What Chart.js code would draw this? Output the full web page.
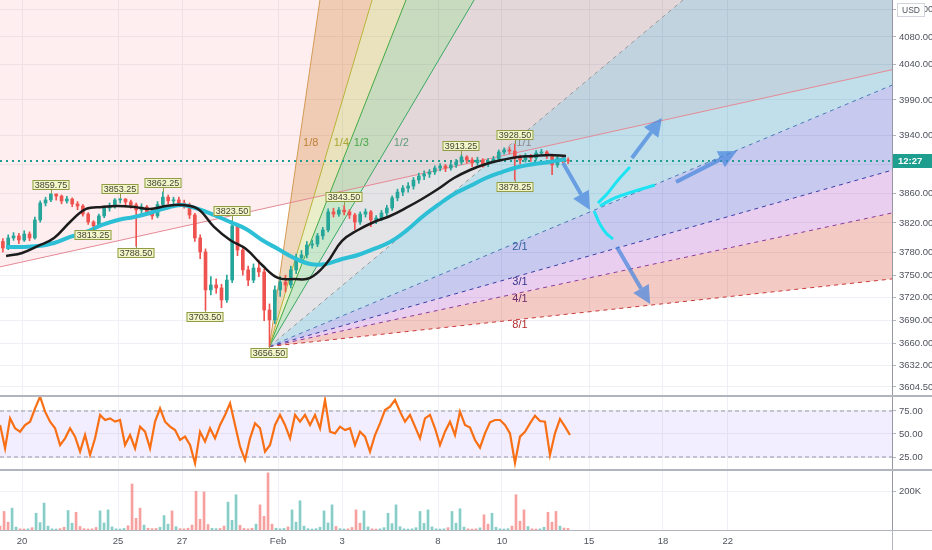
<!DOCTYPE html>
<html>
<head>
<meta charset="utf-8">
<script src="https://cdn.jsdelivr.net/npm/chart.js@4.4.1/dist/chart.umd.min.js"></script>
<style>
  html, body { margin: 0; padding: 0; background: #fff; }
  #wrap { position: relative; width: 932px; height: 550px; overflow: hidden; }
  canvas { position: absolute; left: 0; }
  .sep { position: absolute; left: 0; width: 932px; height: 2px; background: #b2b5be; }
  .rule { position: absolute; background: #b2b5be; }
</style>
</head>
<body>
<div id="wrap">
  <canvas id="priceChart" width="932" height="395" style="top:0"></canvas>
  <div class="sep" style="top:395px"></div>
  <canvas id="rsiChart" width="932" height="72" style="top:397px"></canvas>
  <div class="sep" style="top:469px"></div>
  <canvas id="volChart" width="932" height="79" style="top:471px"></canvas>
  <div class="rule" style="left:892px;top:530px;width:40px;height:1px"></div>
  <div class="rule" style="left:892px;top:530px;width:1px;height:20px"></div>
</div>
<script>
// ---- axis data ----
// x = trading days since Jan 20 (the future part keeps the chart's own spacing)
const dayTicks = [0, 3, 5, 8, 10, 13, 15, 17.72, 20.03, 22.06];
const dayLabels = ['20', '25', '27', 'Feb', '3', '8', '10', '15', '18', '22'];
const dayMin = -0.69, dayMax = 27.19;

const priceTicks = [4120, 4080, 4040, 3990, 3940, 3900, 3860, 3820, 3780, 3750, 3720, 3690, 3660, 3632, 3604.5];
const priceMin = 3594.2, priceMax = 4133.8;

// ---- 4h candles ----
const candleStart = -0.6, candleStep = 1 / 6;
const firstOpen = 3795;
const closes = [
  3786.25, 3799.75, 3802.5, 3797, 3805, 3799.75, 3824, 3847, 3851.25, 3859.5,
  3856.5, 3849.75, 3852.5, 3845.75, 3843, 3832, 3821.25, 3816, 3829.5, 3840.25,
  3843, 3851.25, 3852.5, 3848.5, 3844.5, 3837.5, 3841.75, 3835, 3829.5, 3845,
  3855, 3850, 3851.25, 3847, 3844.5, 3830.75, 3799.75, 3781, 3730.5, 3737,
  3733, 3717.25, 3743.5, 3816, 3783.5, 3757, 3743.5, 3759.5, 3754.25, 3704,
  3691, 3730.5, 3741, 3737, 3757, 3773, 3777, 3790.25, 3791.5, 3802.5,
  3810.5, 3835, 3832, 3837.5, 3835, 3830.75, 3821.25, 3832, 3835, 3824,
  3826.75, 3833.5, 3840.25, 3854, 3862, 3867.5, 3870.25, 3878.5, 3884, 3886.75,
  3889.5, 3895, 3897.75, 3895, 3899.25, 3903.25, 3910.25, 3906, 3902, 3906,
  3900.5, 3904.75, 3907.5, 3917.25, 3920, 3918.5, 3909, 3906, 3911.75, 3909,
  3915.75, 3917.25, 3911.75, 3899.25, 3909, 3906, 3904.75
];
const highs = [
  3799, 3804, 3807, 3806, 3809.5, 3808, 3828, 3850, 3855, 3859.75,
  3859, 3858, 3856, 3854, 3849, 3845, 3834, 3823, 3832, 3843,
  3847, 3853, 3853.25, 3853, 3851, 3847, 3846, 3844, 3838, 3849,
  3862.25, 3858, 3855, 3855, 3851, 3847, 3833, 3804, 3785, 3748,
  3745, 3738, 3750, 3823.5, 3819, 3788, 3762, 3765, 3770, 3758,
  3712, 3736, 3748, 3750, 3762, 3778, 3783, 3795, 3797, 3806,
  3814, 3839, 3840, 3841, 3843.5, 3838, 3833, 3835, 3839, 3837,
  3830, 3837, 3844, 3857, 3866, 3871, 3875, 3882, 3888, 3891,
  3893, 3898, 3901, 3900, 3903, 3907, 3913.25, 3912, 3909, 3910,
  3908, 3908, 3911, 3920, 3923, 3924, 3928.5, 3913, 3915, 3914,
  3919, 3921, 3919, 3914, 3912, 3911, 3909
];
const lows = [
  3781, 3784, 3796.5, 3792, 3795, 3796, 3798, 3821, 3843, 3849,
  3851, 3846, 3847, 3842, 3838, 3829, 3818, 3813.25, 3814, 3827,
  3836, 3840, 3847, 3843, 3840, 3788.5, 3833, 3831, 3825, 3827,
  3842, 3846, 3846, 3843, 3840, 3826, 3795, 3772, 3703.5, 3724,
  3726, 3707, 3714, 3740, 3776, 3750, 3736, 3740, 3748, 3690,
  3656.5, 3686, 3722, 3728, 3733, 3752, 3768, 3773, 3786, 3788,
  3798, 3808, 3828, 3829, 3831, 3826, 3811, 3818, 3828, 3815,
  3819, 3823, 3830, 3837, 3850, 3857, 3862, 3866, 3874, 3879,
  3882, 3886, 3891, 3890, 3892, 3896, 3900, 3902, 3897, 3899,
  3896, 3897, 3902, 3905, 3914, 3915, 3878.25, 3900, 3903, 3904,
  3906, 3912, 3908, 3886, 3896, 3902, 3901
];

// ---- moving averages, read every half day ----
const maDays = [-0.5, 0, 0.5, 1, 1.5, 2, 2.5, 3, 3.5, 4, 4.5, 5, 5.5, 6, 6.5, 7, 7.5, 8,
  8.5, 9, 9.5, 10, 10.5, 11, 11.5, 12, 12.5, 13, 13.5, 14, 14.5, 15, 15.5, 16, 16.5, 17];
const maBlack = [3775.5, 3779.6, 3789, 3799.7, 3821.3, 3839, 3841.7, 3843, 3841.7, 3839,
  3843, 3844.4, 3839, 3814.6, 3797, 3785, 3763.5, 3746.3, 3744.9, 3746.3,
  3764.9, 3795.7, 3810.5, 3821.3, 3829.4, 3840.3, 3852.5, 3866.2, 3881.3, 3892.3,
  3900.6, 3906.1, 3910.3, 3911.7, 3913.1, 3911.7];
const maCyan = [3787.6, 3787.6, 3789, 3793, 3801.1, 3807.8, 3817.3, 3824, 3828.1, 3833.5,
  3840.3, 3844.4, 3839, 3830.8, 3821.3, 3811.9, 3797, 3785, 3772.9, 3764.9,
  3764.9, 3771.5, 3776.9, 3785, 3794.3, 3809.2, 3828.1, 3844.4, 3859.4, 3870.3,
  3881.3, 3889.5, 3896.4, 3900.6, 3903.3, 3907.5];

// ---- drawings ----
const trendDays = [-0.69, 27.19];
const trendPrices = [3761, 4033];

const fanOrigin = [7.73, 3656.5];
const fanNames = ['1/8', '1/4', '1/3', '1/2', '1/1', '2/1', '3/1', '4/1', '8/1'];
const fanEndDay = [9.31, 10.94, 12.0, 14.13, 20.66, 27.19, 27.19, 27.19, 27.19];
const fanEndPrice = [4133.8, 4133.8, 4133.8, 4133.8, 4133.8, 4011, 3892, 3833.5, 3745];
const fanLabelPrice = 3929.7;
const fanLabelDay = 15.56;

const markerDays = [0.9, 2.23, 3.07, 3.57, 4.4, 5.73, 6.57, 7.73, 10.07, 13.73, 15.4, 15.4];
const markerPrices = [3859.75, 3813.25, 3853.25, 3788.5, 3862.25, 3703.5, 3823.5, 3656.5, 3843.5, 3913.25, 3928.5, 3878.25];
const markerIsHigh = [true, false, true, false, true, false, true, false, true, true, true, false];

const arrowFrom = [[16.91, 3901.9], [19.06, 3908.9], [20.44, 3875.8], [18.59, 3787.6]];
const arrowTo = [[17.75, 3837.6], [20.0, 3964.6], [22.34, 3918.6], [19.63, 3711.9]];

const brushA = [[18.0, 3847.1], [18.31, 3860.8], [18.63, 3878.5], [19.0, 3896.4]];
const brushB = [[18.06, 3843.0], [18.53, 3853.9], [19.16, 3863.4], [19.78, 3871.6]];
const brushC = [[17.88, 3836.2], [18.06, 3818.6], [18.25, 3806.4], [18.47, 3798.3]];

const lastPrice = 3904.75;
const countdownText = '12:27';

// ---- RSI, every 5px (0.15625 day) ----
const rsiStart = -0.6875, rsiStep = 0.15625;
const rsiValues = [
  59.8, 34.4, 67.0, 56.2, 52.5, 59.8, 63.4, 77.9, 90.6, 74.3,
  63.4, 56.2, 38.0, 45.3, 56.2, 47.1, 30.8, 48.9, 27.2, 45.3,
  70.7, 65.2, 67.0, 63.4, 65.2, 38.0, 48.9, 34.4, 58.0, 52.5,
  34.4, 63.4, 77.9, 63.4, 58.0, 54.3, 43.5, 47.1, 38.0, 18.1,
  52.5, 41.7, 56.2, 45.3, 59.8, 70.7, 83.3, 59.8, 36.2, 21.7,
  45.3, 61.6, 56.2, 30.8, 38.0, 59.8, 70.7, 59.8, 45.3, 70.7,
  63.4, 70.7, 59.8, 70.7, 56.2, 87.0, 52.5, 50.7, 58.0, 54.3,
  56.2, 38.0, 52.5, 47.1, 30.8, 48.9, 61.6, 76.1, 79.7, 87.0,
  74.3, 63.4, 70.7, 58.0, 45.3, 67.0, 70.7, 56.2, 38.0, 52.5,
  63.4, 48.9, 74.3, 59.8, 56.9, 43.5, 35.1, 50.7, 62.7, 65.2,
  65.2, 59.8, 50.7, 18.5, 47.1, 52.5, 61.6, 69.9, 64.1, 63.4,
  27.0, 50.7, 66.3, 58.0, 48.9
];
const rsiBand = [25, 75];
const rsiTicks = [25, 50, 75];

// ---- volume (thousands), every 4px (1/8 day) ----
const volStart = -0.6875, volStep = 0.125;
const volumes = [
  20, 95, 40, 112, 15, 6, 5, 6, 12, 86, 38, 138, 20, 6, 5, 7, 14,
  100, 35, 91, 18, 7, 5, 6, 13, 98, 36, 103, 16, 6, 5, 8, 22,
  236, 60, 112, 25, 9, 7, 8, 14, 74, 30, 98, 17, 7, 6, 9, 25,
  198, 55, 195, 28, 9, 7, 8, 20, 143, 50, 181, 24, 8, 6, 9, 30,
  129, 70, 293, 30, 9, 6, 8, 16, 103, 40, 150, 20, 7, 5, 7, 14,
  98, 36, 129, 18, 7, 5, 6, 13, 103, 35, 98, 16, 6, 5, 6, 12,
  86, 33, 129, 17, 6, 5, 6, 12, 95, 34, 103, 16, 6, 5, 6, 12,
  95, 35, 109, 15, 6, 5, 6, 11, 78, 30, 86, 14, 6, 5, 7, 20,
  181, 45, 103, 18, 6, 5, 6, 14, 91, 40, 95, 20, 10, 8
];
const volTicks = [200];

// ---- styles ----
const FONT = '"Liberation Sans", Arial, sans-serif';
const UP = '#26a69a', DOWN = '#ef5350';
const fanLine = ['#d49a55', '#b9b43a', '#43a843', '#3aa864', '#9a9a9a', '#4a78b4', '#3b3ba6', '#8a3a9c', '#c83a3a'];
const fanText = ['#c0803a', '#a9a532', '#4aa64a', '#5f9a78', '#8a8a8a', '#2f5f9e', '#34348c', '#6e2a6e', '#b02c2c'];
const fanFill = ['rgba(205,125,40,0.3)', 'rgba(170,190,40,0.25)', 'rgba(76,175,80,0.3)', 'rgba(120,120,130,0.2)',
  'rgba(30,140,180,0.28)', 'rgba(70,80,200,0.3)', 'rgba(170,60,190,0.25)', 'rgba(220,80,60,0.3)'];

Chart.defaults.font.family = FONT;
Chart.defaults.font.size = 9.5;
Chart.defaults.color = '#50535e';
Chart.defaults.animation = false;
Chart.defaults.events = [];
Chart.defaults.plugins.legend.display = false;
Chart.defaults.plugins.tooltip.enabled = false;

const opens = closes.map((c, i) => i === 0 ? firstOpen : closes[i - 1]);
const isUp = closes.map((c, i) => c >= opens[i]);
const candleDays = closes.map((c, i) => candleStart + i * candleStep);
const toPts = arr => arr.map(p => ({x: p[0], y: p[1]}));

function dayScale(showLabels) {
  return {
    type: 'linear', min: dayMin, max: dayMax, offset: false,
    afterBuildTicks: s => { s.ticks = dayTicks.map(v => ({value: v})); },
    afterFit: s => { s.height = showLabels ? 20 : 0; s.paddingLeft = 0; s.paddingRight = 0; },
    grid: {color: '#eef0f5', drawTicks: false, offset: false},
    border: {display: showLabels, color: '#b2b5be'},
    ticks: {display: showLabels, padding: 6, autoSkip: false, maxRotation: 0,
      callback: (v, i) => dayLabels[i]}
  };
}
function sideScale(extra) {
  return Object.assign({
    position: 'right',
    afterFit: s => { s.width = 40; s.paddingTop = 0; s.paddingBottom = 0; },
    grid: {color: '#eef0f5', tickLength: 4, tickColor: '#b2b5be'},
    border: {color: '#9598a1'},
    ticks: {padding: 3, autoSkip: false}
  }, extra);
}

// ---- overlay drawings for the price pane ----
function drawArrow(ctx, x1, y1, x2, y2) {
  const ang = Math.atan2(y2 - y1, x2 - x1);
  const headLen = 18, headW = 9;
  const bx = x2 - headLen * Math.cos(ang), by = y2 - headLen * Math.sin(ang);
  ctx.strokeStyle = 'rgba(70,134,222,0.72)';
  ctx.fillStyle = 'rgba(70,134,222,0.72)';
  ctx.lineWidth = 4;
  ctx.beginPath(); ctx.moveTo(x1, y1); ctx.lineTo(bx, by); ctx.stroke();
  ctx.beginPath();
  ctx.moveTo(x2, y2);
  ctx.lineTo(bx + headW * Math.sin(ang), by - headW * Math.cos(ang));
  ctx.lineTo(bx - headW * Math.sin(ang), by + headW * Math.cos(ang));
  ctx.closePath(); ctx.fill();
}

const overlay = {
  id: 'overlay',
  afterDatasetsDraw(chart) {
    const {ctx, chartArea: a} = chart;
    const px = d => chart.scales.x.getPixelForValue(d);
    const py = p => chart.scales.y.getPixelForValue(p);
    ctx.save();
    ctx.beginPath();
    ctx.rect(a.left, a.top, a.right - a.left, a.bottom - a.top);
    ctx.clip();

    // fan labels
    const ox = px(fanOrigin[0]), oy = py(fanOrigin[1]);
    ctx.font = '11px ' + FONT;
    ctx.textBaseline = 'middle';
    fanNames.forEach((name, i) => {
      const ex = px(fanEndDay[i]), ey = py(fanEndPrice[i]);
      ctx.fillStyle = fanText[i];
      if (fanEndPrice[i] >= priceMax) {
        const ly = py(fanLabelPrice);
        const lx = ox + (ly - oy) / (ey - oy) * (ex - ox);
        ctx.textAlign = 'left';
        ctx.fillText(name, lx + 4, ly);
      } else {
        const lx = px(fanLabelDay);
        const ly = oy + (lx - ox) / (ex - ox) * (ey - oy);
        ctx.textAlign = 'center';
        ctx.fillText(name, lx, ly + 6);
      }
    });

    // arrows
    arrowFrom.forEach((f, i) => {
      drawArrow(ctx, px(f[0]), py(f[1]), px(arrowTo[i][0]), py(arrowTo[i][1]));
    });

    // high / low price labels
    ctx.font = '9px ' + FONT;
    ctx.textAlign = 'center';
    markerDays.forEach((d, i) => {
      const x = Math.round(px(d)), y = py(markerPrices[i]);
      const txt = markerPrices[i].toFixed(2);
      const w = Math.round(ctx.measureText(txt).width) + 4, h = 10;
      const top = markerIsHigh[i] ? Math.round(y - 4 - h) : Math.round(y + 2);
      ctx.strokeStyle = '#8f9c45';
      ctx.lineWidth = 1;
      ctx.beginPath();
      ctx.moveTo(x + 0.5, y);
      ctx.lineTo(x + 0.5, markerIsHigh[i] ? top + h : top);
      ctx.stroke();
      ctx.fillStyle = '#f3f6c9';
      ctx.fillRect(x - w / 2, top, w, h);
      ctx.strokeRect(x - w / 2 + 0.5, top + 0.5, w - 1, h - 1);
      ctx.fillStyle = '#3f4230';
      ctx.fillText(txt, x, top + h / 2 + 0.5);
    });
    ctx.restore();

    // countdown badge on the price axis
    const yp = Math.round(py(lastPrice));
    ctx.save();
    ctx.fillStyle = '#1e9e8f';
    ctx.fillRect(a.right + 1, yp - 7, 39, 14);
    ctx.fillStyle = '#fff';
    ctx.font = 'bold 9.5px ' + FONT;
    ctx.textAlign = 'left';
    ctx.textBaseline = 'middle';
    ctx.fillText(countdownText, a.right + 6, yp + 0.5);
    // currency box
    ctx.fillStyle = '#fff';
    ctx.strokeStyle = '#d1d4dc';
    ctx.fillRect(a.right + 5, 3, 28, 14);
    ctx.strokeRect(a.right + 5.5, 3.5, 27, 13);
    ctx.fillStyle = '#50535e';
    ctx.font = '8.5px ' + FONT;
    ctx.textAlign = 'center';
    ctx.fillText('USD', a.right + 19, 10.5);
    ctx.restore();
  }
};

// ---- price pane datasets (lower order = drawn on top) ----
const priceSets = [];
priceSets.push({type: 'line', data: toPts(brushA), borderColor: '#1ee3f2', borderWidth: 3, pointRadius: 0, tension: 0.4, order: 0});
priceSets.push({type: 'line', data: toPts(brushB), borderColor: '#1ee3f2', borderWidth: 3, pointRadius: 0, tension: 0.4, order: 0});
priceSets.push({type: 'line', data: toPts(brushC), borderColor: '#1ee3f2', borderWidth: 3, pointRadius: 0, tension: 0.4, order: 0});
priceSets.push({type: 'line', data: maDays.map((d, i) => ({x: d, y: maBlack[i]})), borderColor: '#1c1c1c', borderWidth: 2.5, pointRadius: 0, tension: 0.4, order: 1});
priceSets.push({type: 'line', data: maDays.map((d, i) => ({x: d, y: maCyan[i]})), borderColor: '#2cbfd6', borderWidth: 4, pointRadius: 0, tension: 0.4, order: 2});
priceSets.push({type: 'bar', data: candleDays.map((d, i) => ({x: d, y: [opens[i], closes[i]]})),
  backgroundColor: isUp.map(u => u ? UP : DOWN), barThickness: 3, minBarLength: 1, grouped: false, order: 3});
priceSets.push({type: 'bar', data: candleDays.map((d, i) => ({x: d, y: [lows[i], highs[i]]})),
  backgroundColor: isUp.map(u => u ? UP : DOWN), barThickness: 1, grouped: false, order: 4});
priceSets.push({type: 'line', data: [{x: dayMin, y: lastPrice}, {x: dayMax, y: lastPrice}],
  borderColor: '#1e9e8f', borderWidth: 2, borderDash: [2, 4], pointRadius: 0, order: 5});
priceSets.push({type: 'line', data: trendDays.map((d, i) => ({x: d, y: trendPrices[i]})),
  borderColor: '#e48a95', borderWidth: 1, pointRadius: 0, order: 6});
fanNames.forEach((n, i) => {
  priceSets.push({type: 'line', data: [{x: fanOrigin[0], y: fanOrigin[1]}, {x: fanEndDay[i], y: fanEndPrice[i]}],
    borderColor: fanLine[i], borderWidth: 1, borderDash: i >= 4 ? [4, 4] : [], pointRadius: 0, order: 7});
});
for (let i = 0; i < fanNames.length - 1; i++) {
  const pts = [{x: fanOrigin[0], y: fanOrigin[1]}, {x: fanEndDay[i], y: fanEndPrice[i]}];
  if (fanEndPrice[i] >= priceMax && fanEndDay[i + 1] >= dayMax) pts.push({x: dayMax, y: priceMax});
  pts.push({x: fanEndDay[i + 1], y: fanEndPrice[i + 1]});
  priceSets.push({type: 'line', data: pts, fill: 'shape', backgroundColor: fanFill[i], borderWidth: 0, pointRadius: 0, order: 8});
}
priceSets.push({type: 'line', data: trendDays.map((d, i) => ({x: d, y: trendPrices[i]})),
  fill: 'end', backgroundColor: 'rgba(242,54,69,0.085)', borderWidth: 0, pointRadius: 0, order: 9});

new Chart(document.getElementById('priceChart'), {
  type: 'bar',
  data: {datasets: priceSets},
  options: {
    responsive: false, maintainAspectRatio: false,
    layout: {padding: 0},
    scales: {
      x: dayScale(false),
      y: sideScale({
        type: 'logarithmic', min: priceMin, max: priceMax,
        afterBuildTicks: s => { s.ticks = priceTicks.map(v => ({value: v})); },
        ticks: {padding: 3, autoSkip: false, callback: v => Number(v).toFixed(2)}
      })
    }
  },
  plugins: [overlay]
});

// ---- RSI pane ----
new Chart(document.getElementById('rsiChart'), {
  type: 'line',
  data: {datasets: [
    {data: rsiValues.map((v, k) => ({x: rsiStart + k * rsiStep, y: v})), borderColor: '#f86f14', borderWidth: 2.2,
      borderJoinStyle: 'miter', pointRadius: 0, order: 0},
    {data: [{x: dayMin, y: rsiBand[1]}, {x: dayMax, y: rsiBand[1]}], borderColor: '#9598a1', borderWidth: 1, borderDash: [4, 3],
      pointRadius: 0, fill: {value: rsiBand[0]}, backgroundColor: 'rgba(149,117,255,0.12)', order: 1},
    {data: [{x: dayMin, y: rsiBand[0]}, {x: dayMax, y: rsiBand[0]}], borderColor: '#9598a1', borderWidth: 1, borderDash: [4, 3],
      pointRadius: 0, order: 1}
  ]},
  options: {
    responsive: false, maintainAspectRatio: false,
    layout: {padding: 0},
    scales: {
      x: dayScale(false),
      y: sideScale({
        type: 'linear', min: 11.96, max: 90.2,
        afterBuildTicks: s => { s.ticks = rsiTicks.map(v => ({value: v})); },
        ticks: {padding: 3, autoSkip: false, callback: v => Number(v).toFixed(2)}
      })
    }
  }
});

// ---- volume pane ----
const volColors = volumes.map((v, k) => {
  const d = volStart + k * volStep;
  const j = Math.min(closes.length - 1, Math.max(0, Math.floor((d - candleStart) / candleStep)));
  return isUp[j] ? 'rgba(38,166,154,0.55)' : 'rgba(239,83,80,0.55)';
});
new Chart(document.getElementById('volChart'), {
  type: 'bar',
  data: {datasets: [
    {data: volumes.map((v, k) => ({x: volStart + k * volStep, y: v})), backgroundColor: volColors, barThickness: 2, grouped: false}
  ]},
  options: {
    responsive: false, maintainAspectRatio: false,
    layout: {padding: 0},
    scales: {
      x: dayScale(true),
      y: sideScale({
        type: 'linear', min: 0, max: 302.6,
        afterBuildTicks: s => { s.ticks = volTicks.map(v => ({value: v})); },
        ticks: {padding: 3, autoSkip: false, callback: v => v + 'K'}
      })
    }
  }
});
</script>
</body>
</html>
